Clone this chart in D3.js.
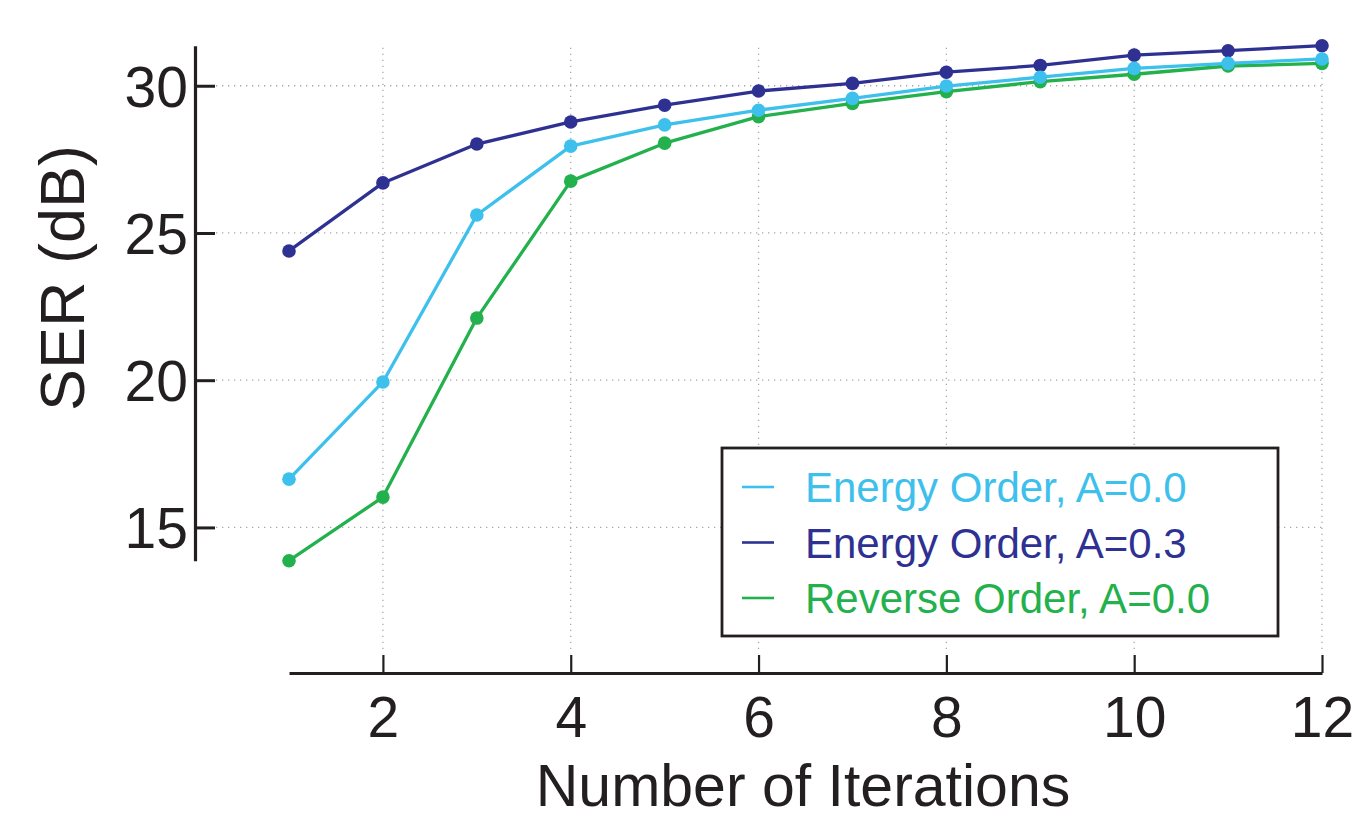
<!DOCTYPE html>
<html>
<head>
<meta charset="utf-8">
<script src="https://cdn.jsdelivr.net/npm/d3@7"></script>
<style>
  html, body { margin: 0; padding: 0; background: #fff; }
  svg { display: block; font-family: "Liberation Sans", Arial, Helvetica, sans-serif; }
</style>
</head>
<body>
<svg id="chart" width="1372" height="819"></svg>
<script>
// Iteration counts on the x axis
const iterations = [1, 2, 3, 4, 5, 6, 7, 8, 9, 10, 11, 12];

// SER (dB) per iteration for each ordering
const energyA00  = [16.64, 19.94, 25.61, 27.95, 28.67, 29.17, 29.57, 29.99, 30.29, 30.59, 30.76, 30.91];
const energyA03  = [24.39, 26.70, 28.02, 28.77, 29.34, 29.82, 30.08, 30.46, 30.69, 31.04, 31.19, 31.36];
const reverseA00 = [13.87, 16.03, 22.11, 26.76, 28.05, 28.95, 29.40, 29.80, 30.14, 30.39, 30.67, 30.76];

const seriesNames = ["Energy Order, A=0.0", "Energy Order, A=0.3", "Reverse Order, A=0.0"];
const xTicks = [2, 4, 6, 8, 10, 12];
const yTicks = [15, 20, 25, 30];

const colors = {
  "Energy Order, A=0.0": "#3dc0ec",
  "Energy Order, A=0.3": "#2e3192",
  "Reverse Order, A=0.0": "#22b14c"
};

const series = [
  { name: seriesNames[0], values: energyA00 },
  { name: seriesNames[1], values: energyA03 },
  { name: seriesNames[2], values: reverseA00 }
];

const svg = d3.select("#chart");

const allVals = energyA00.concat(energyA03, reverseA00);
const x = d3.scaleLinear().domain(d3.extent(iterations)).range([289, 1322]);
const y = d3.scaleLinear().domain(d3.extent(allVals)).range([560.7, 45.7]);

const axisX0 = 195;   // y axis line position
const axisY0 = 673;   // x axis line position

// dotted grid
const grid = svg.append("g").attr("class", "grid")
  .attr("stroke", "#a8a8a8").attr("stroke-width", 1.3)
  .attr("stroke-dasharray", "1.3,4.7").attr("fill", "none");

grid.selectAll("line.h").data(yTicks).join("line")
  .attr("class", "h")
  .attr("x1", axisX0 + 21).attr("x2", x(12) + 1)
  .attr("y1", d => y(d)).attr("y2", d => y(d));

grid.selectAll("line.v").data(xTicks).join("line")
  .attr("class", "v")
  .attr("x1", d => x(d)).attr("x2", d => x(d))
  .attr("y1", y.range()[1] + 2).attr("y2", axisY0 - 19);

// y axis
const yAxis = d3.axisLeft(y).tickValues(yTicks).tickSize(-20).tickSizeOuter(0).tickPadding(7);
const gy = svg.append("g").attr("transform", `translate(${axisX0},0)`).call(yAxis);
gy.select(".domain").attr("stroke", "#231f20").attr("stroke-width", 3.2);
gy.selectAll(".tick line").attr("stroke", "#231f20").attr("stroke-width", 3);
gy.selectAll(".tick text")
  .attr("font-size", 57).attr("fill", "#231f20")
  .attr("font-family", "Liberation Sans, Arial, sans-serif")
  .attr("dy", "0.36em");

// x axis
const xAxis = d3.axisBottom(x).tickValues(xTicks).tickSize(-18).tickSizeOuter(0).tickPadding(24);
const gx = svg.append("g").attr("transform", `translate(0,${axisY0})`).call(xAxis);
gx.select(".domain").attr("stroke", "#231f20").attr("stroke-width", 3.2);
gx.selectAll(".tick line").attr("stroke", "#231f20").attr("stroke-width", 2.2);
gx.selectAll(".tick text")
  .attr("font-size", 57).attr("fill", "#231f20")
  .attr("font-family", "Liberation Sans, Arial, sans-serif");

// axis titles
svg.append("text")
  .attr("transform", "translate(84,278) rotate(-90)")
  .attr("text-anchor", "middle")
  .attr("font-size", 63).attr("fill", "#231f20")
  .text("SER (dB)");

svg.append("text")
  .attr("x", 803).attr("y", 806)
  .attr("text-anchor", "middle")
  .attr("font-size", 59).attr("fill", "#231f20")
  .text("Number of Iterations");

// series lines and markers
const line = d3.line().x((d, i) => x(iterations[i])).y(d => y(d));
const drawOrder = [series[2], series[1], series[0]];
const plot = svg.append("g");
drawOrder.forEach(s => {
  const g = plot.append("g");
  g.append("path")
    .datum(s.values)
    .attr("d", line)
    .attr("fill", "none")
    .attr("stroke", colors[s.name])
    .attr("stroke-width", 3.3)
    .attr("stroke-linejoin", "round");
  g.selectAll("circle").data(s.values).join("circle")
    .attr("cx", (d, i) => x(iterations[i]))
    .attr("cy", d => y(d))
    .attr("r", 6.8)
    .attr("fill", colors[s.name]);
});

// legend
const legend = svg.append("g");
legend.append("rect")
  .attr("x", 722).attr("y", 448).attr("width", 556).attr("height", 188)
  .attr("fill", "#fff").attr("stroke", "#231f20").attr("stroke-width", 2.8);

const rowY = d3.scalePoint().domain(seriesNames).range([487, 598]);
const rows = legend.selectAll("g.row").data(seriesNames).join("g")
  .attr("class", "row")
  .attr("transform", d => `translate(0,${rowY(d)})`);
rows.append("line")
  .attr("x1", 742).attr("x2", 774).attr("y1", 0).attr("y2", 0)
  .attr("stroke", d => colors[d]).attr("stroke-width", 2.6);
rows.append("text")
  .attr("x", 805).attr("y", 0).attr("dy", "0.36em")
  .attr("font-size", 42)
  .attr("fill", d => colors[d])
  .text(d => d);
</script>
</body>
</html>
